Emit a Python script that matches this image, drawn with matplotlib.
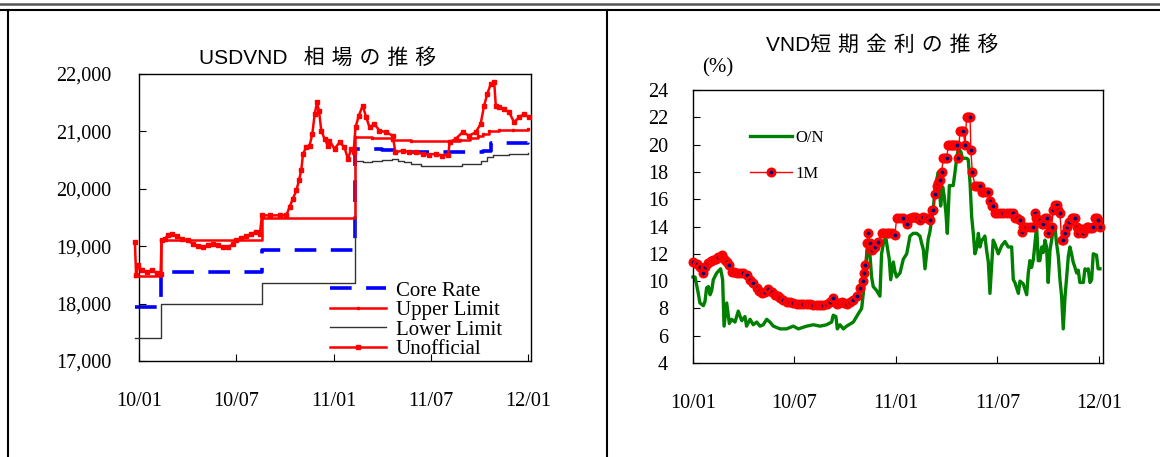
import matplotlib
matplotlib.use("Agg")
import matplotlib.pyplot as plt
from matplotlib.lines import Line2D

plt.rcParams['font.family'] = ['Liberation Serif', 'DejaVu Serif']
TITLE_FONT = ['Liberation Sans', 'Noto Sans CJK JP', 'DejaVu Sans']

# ---------------- shared x axis (fractional year) ----------------
tick_years = [2010.0, 2010.5, 2011.0, 2011.5, 2012.0]
tick_labels = ["10/01", "10/07", "11/01", "11/07", "12/01"]

# ---------------- USDVND: official band and unofficial market ----------------
core_t = [2009.98, 2010.115, 2010.630, 2011.110, 2011.25, 2011.38, 2011.77, 2011.81, 2012.0]
core_v = [17941, 18544, 18932, 20693, 20670, 20637, 20666, 20800, 20828]

upper_t = [2009.98, 2010.115, 2010.630, 2011.110, 2011.20, 2011.30, 2011.40, 2011.60,
           2011.65, 2011.70, 2011.74, 2011.77, 2011.80, 2011.85, 2011.92, 2012.0]
upper_v = [18479, 19100, 19500, 20900, 20880, 20850, 20830, 20825,
           20850, 20880, 20920, 20960, 21010, 21025, 21030, 21045]

lower_t = [2009.98, 2010.115, 2010.630, 2011.110, 2011.15, 2011.20, 2011.25, 2011.30,
           2011.33, 2011.36, 2011.40, 2011.45, 2011.55, 2011.62, 2011.66, 2011.72,
           2011.76, 2011.79, 2011.82, 2011.90, 2012.0]
lower_v = [17403, 17987, 18364, 20486, 20465, 20490, 20505, 20520,
           20490, 20460, 20435, 20405, 20405, 20405, 20434, 20434,
           20480, 20560, 20597, 20605, 20620]

unoff_t = [2009.979, 2009.985, 2009.997, 2010.014, 2010.039, 2010.065, 2010.091, 2010.111,
           2010.116, 2010.133, 2010.150, 2010.168, 2010.193, 2010.219, 2010.253, 2010.279,
           2010.304, 2010.330, 2010.356, 2010.381, 2010.407, 2010.432, 2010.458, 2010.484,
           2010.501, 2010.526, 2010.552, 2010.578, 2010.603, 2010.621, 2010.632, 2010.672,
           2010.723, 2010.757, 2010.774, 2010.791, 2010.809, 2010.822, 2010.834, 2010.843,
           2010.860, 2010.877, 2010.891, 2010.903, 2010.915, 2010.925, 2010.937, 2010.954,
           2010.971, 2010.979, 2011.005, 2011.031, 2011.056, 2011.074, 2011.091, 2011.103,
           2011.113, 2011.130, 2011.150, 2011.168, 2011.185, 2011.210, 2011.236, 2011.270,
           2011.304, 2011.318, 2011.356, 2011.390, 2011.424, 2011.458, 2011.492, 2011.526,
           2011.559, 2011.590, 2011.597, 2011.628, 2011.663, 2011.697, 2011.731, 2011.756,
           2011.774, 2011.790, 2011.808, 2011.826, 2011.834, 2011.851, 2011.877, 2011.903,
           2011.928, 2011.954, 2011.979, 2012.005]
unoff_v = [19074, 18494, 18668, 18581, 18552, 18581, 18535, 18523,
           19102, 19131, 19189, 19207, 19172, 19131, 19102, 19033,
           19004, 18987, 19016, 19045, 19016, 18987, 18987, 19033,
           19102, 19149, 19172, 19218, 19247, 19207, 19537, 19537,
           19537, 19537, 19682, 19827, 19971, 20145, 20319, 20608,
           20724, 20753, 20956, 21303, 21506, 21361, 21014, 20869,
           20753, 20840, 20695, 20811, 20724, 20521, 20695, 20637,
           21072, 21274, 21448, 21245, 21072, 21130, 21014, 20985,
           20927, 20637, 20666, 20637, 20637, 20608, 20597, 20608,
           20579, 20597, 20811, 20869, 20985, 20927, 20985, 21130,
           21448, 21651, 21825, 21854, 21448, 21419, 21390, 21332,
           21159, 21245, 21303, 21245]

# ---------------- VND short-term rates (%) ----------------
on_t = [2010.000, 2010.010, 2010.026, 2010.034, 2010.051, 2010.059, 2010.067, 2010.076,
        2010.084, 2010.092, 2010.100, 2010.117, 2010.136, 2010.146, 2010.153, 2010.166,
        2010.179, 2010.190, 2010.207, 2010.223, 2010.240, 2010.256, 2010.264, 2010.281,
        2010.297, 2010.314, 2010.330, 2010.346, 2010.363, 2010.379, 2010.396, 2010.429,
        2010.445, 2010.461, 2010.494, 2010.519, 2010.560, 2010.593, 2010.626, 2010.658,
        2010.683, 2010.691, 2010.704, 2010.711, 2010.724, 2010.741, 2010.757, 2010.790,
        2010.814, 2010.831, 2010.839, 2010.847, 2010.856, 2010.864, 2010.872, 2010.880,
        2010.888, 2010.905, 2010.921, 2010.929, 2010.941, 2010.951, 2010.957, 2010.967,
        2010.974, 2010.987, 2010.995, 2011.003, 2011.020, 2011.036, 2011.053, 2011.069,
        2011.085, 2011.102, 2011.118, 2011.126, 2011.135, 2011.143, 2011.151, 2011.159,
        2011.167, 2011.176, 2011.184, 2011.192, 2011.200, 2011.209, 2011.213, 2011.220,
        2011.230, 2011.238, 2011.246, 2011.253, 2011.263, 2011.282, 2011.291, 2011.299,
        2011.307, 2011.319, 2011.328, 2011.348, 2011.356, 2011.365, 2011.373, 2011.381,
        2011.389, 2011.397, 2011.406, 2011.414, 2011.422, 2011.430, 2011.438, 2011.447,
        2011.455, 2011.463, 2011.471, 2011.479, 2011.488, 2011.504, 2011.521, 2011.537,
        2011.553, 2011.570, 2011.578, 2011.586, 2011.603, 2011.611, 2011.627, 2011.644,
        2011.652, 2011.660, 2011.668, 2011.677, 2011.685, 2011.693, 2011.701, 2011.709,
        2011.718, 2011.726, 2011.734, 2011.742, 2011.750, 2011.759, 2011.767, 2011.775,
        2011.783, 2011.791, 2011.800, 2011.808, 2011.816, 2011.824, 2011.833, 2011.841,
        2011.849, 2011.857, 2011.865, 2011.873, 2011.882, 2011.890, 2011.898, 2011.906,
        2011.923, 2011.931, 2011.939, 2011.947, 2011.956, 2011.964, 2011.972, 2011.988,
        2011.996, 2012.005]
on_v = [10.3, 10.3, 9.1, 8.4, 8.2, 8.5, 9.5, 9.6,
        9.0, 9.3, 10.1, 10.6, 10.9, 10.1, 6.7, 8.4,
        6.9, 7.2, 7.0, 7.8, 7.1, 7.4, 6.7, 7.2,
        6.8, 7.0, 6.7, 6.8, 7.2, 7.0, 6.7, 6.5,
        6.5, 6.5, 6.7, 6.5, 6.7, 6.8, 6.7, 6.8,
        7.0, 7.5, 7.4, 6.5, 6.8, 6.5, 6.7, 7.0,
        7.6, 8.0, 9.1, 10.3, 11.8, 12.8, 11.9, 10.3,
        9.6, 9.3, 8.9, 12.0, 13.0, 13.1, 12.5, 11.6,
        10.1, 11.4, 10.7, 10.3, 10.6, 11.6, 12.0, 13.3,
        13.5, 13.5, 13.3, 12.8, 12.3, 10.9, 12.0, 13.1,
        13.6, 14.5, 15.3, 16.7, 17.4, 18.0, 17.2, 15.5,
        16.9, 16.2, 15.0, 13.5, 17.0, 17.0, 18.0, 19.0,
        19.7, 19.5, 19.0, 19.0, 18.9, 17.2, 14.7, 13.5,
        12.0, 12.4, 13.5, 12.5, 13.0, 13.1, 13.3, 12.2,
        11.4, 9.1, 11.0, 13.0, 12.7, 12.0, 12.6, 12.9,
        12.5, 12.5, 10.1, 9.9, 9.1, 10.0, 9.8, 9.0,
        10.6, 11.5, 11.0, 11.6, 12.8, 14.0, 11.5, 11.5,
        12.5, 12.1, 13.0, 12.5, 9.9, 12.3, 13.0, 13.9,
        14.0, 12.8, 11.8, 10.1, 8.9, 6.5, 8.9, 10.3,
        11.8, 12.5, 12.0, 11.4, 11.0, 10.6, 10.8, 9.9,
        9.9, 10.9, 10.8, 10.9, 9.9, 10.1, 12.0, 11.9,
        10.9, 10.9]

m1_t = [2010.002, 2010.018, 2010.034, 2010.051, 2010.059, 2010.076, 2010.088, 2010.100,
        2010.112, 2010.125, 2010.141, 2010.149, 2010.158, 2010.166, 2010.179, 2010.190,
        2010.202, 2010.215, 2010.232, 2010.248, 2010.264, 2010.281, 2010.297, 2010.314,
        2010.326, 2010.338, 2010.355, 2010.371, 2010.388, 2010.404, 2010.417, 2010.429,
        2010.445, 2010.461, 2010.478, 2010.494, 2010.510, 2010.527, 2010.543, 2010.560,
        2010.576, 2010.593, 2010.609, 2010.626, 2010.642, 2010.658, 2010.675, 2010.691,
        2010.708, 2010.720, 2010.732, 2010.745, 2010.757, 2010.774, 2010.790, 2010.806,
        2010.823, 2010.839, 2010.842, 2010.847, 2010.855, 2010.864, 2010.872, 2010.880,
        2010.897, 2010.913, 2010.929, 2010.942, 2010.954, 2010.967, 2010.980, 2010.995,
        2011.003, 2011.020, 2011.036, 2011.053, 2011.069, 2011.082, 2011.094, 2011.106,
        2011.118, 2011.135, 2011.151, 2011.167, 2011.176, 2011.184, 2011.192, 2011.200,
        2011.208, 2011.217, 2011.225, 2011.233, 2011.242, 2011.250, 2011.258, 2011.266,
        2011.274, 2011.283, 2011.291, 2011.299, 2011.307, 2011.315, 2011.324, 2011.332,
        2011.340, 2011.348, 2011.356, 2011.365, 2011.369, 2011.376, 2011.389, 2011.401,
        2011.414, 2011.422, 2011.430, 2011.442, 2011.455, 2011.463, 2011.471, 2011.479,
        2011.488, 2011.496, 2011.512, 2011.529, 2011.545, 2011.562, 2011.578, 2011.586,
        2011.598, 2011.611, 2011.619, 2011.627, 2011.643, 2011.659, 2011.675, 2011.683,
        2011.690, 2011.700, 2011.709, 2011.718, 2011.726, 2011.734, 2011.742, 2011.750,
        2011.758, 2011.767, 2011.775, 2011.783, 2011.791, 2011.800, 2011.808, 2011.816,
        2011.825, 2011.833, 2011.841, 2011.853, 2011.865, 2011.874, 2011.882, 2011.890,
        2011.898, 2011.906, 2011.915, 2011.923, 2011.931, 2011.939, 2011.947, 2011.956,
        2011.964, 2011.972, 2011.980, 2011.988, 2011.997, 2012.005]
m1_v = [11.4, 11.25, 11.0, 10.6, 11.05, 11.3, 11.45, 11.55,
        11.65, 11.8, 11.9, 11.7, 11.55, 11.4, 11.2, 10.7,
        10.65, 10.6, 10.6, 10.6, 10.45, 10.1, 9.85, 9.5,
        9.3, 9.1, 9.2, 9.4, 9.2, 9.0, 8.9, 8.75,
        8.6, 8.5, 8.45, 8.4, 8.35, 8.3, 8.3, 8.3,
        8.3, 8.25, 8.25, 8.25, 8.25, 8.3, 8.5, 8.75,
        8.3, 8.4, 8.5, 8.4, 8.3, 8.45, 8.6, 8.9,
        9.5, 10.0, 10.6, 11.2, 12.8, 13.5, 12.8, 12.3,
        12.5, 12.9, 13.5, 13.5, 13.5, 13.5, 13.5, 13.4,
        14.6, 14.6, 14.6, 14.2, 14.6, 14.7, 14.7, 14.6,
        14.5, 14.7, 14.6, 14.5, 15.2, 15.2, 16.4, 17.0,
        17.2, 17.4, 18.0, 19.0, 19.0, 19.0, 20.0, 20.0,
        20.0, 20.0, 20.0, 20.0, 19.0, 21.0, 21.0, 21.0,
        20.0, 22.0, 22.0, 22.0, 19.6, 18.0, 17.0, 17.0,
        17.0, 16.5, 16.5, 16.5, 16.5, 15.9, 15.5, 15.5,
        15.0, 15.0, 15.0, 15.0, 15.0, 15.0, 15.0, 14.6,
        14.6, 14.5, 13.6, 14.0, 14.0, 14.0, 14.0, 15.0,
        14.6, 14.5, 14.5, 14.2, 14.2, 14.6, 14.6, 13.5,
        14.0, 14.0, 15.2, 15.6, 15.6, 15.2, 15.0, 13.0,
        13.0, 13.5, 14.0, 14.3, 14.6, 14.6, 14.6, 14.0,
        13.5, 13.8, 13.8, 13.5, 13.8, 14.0, 14.0, 13.9,
        13.9, 14.0, 14.6, 14.6, 14.5, 14.0]

# ---------------- figure ----------------
fig = plt.figure(figsize=(11.6, 4.57), dpi=100)

# page rules: double line on top, vertical separators
fig.add_artist(Line2D([0, 1], [0.9915, 0.9915], transform=fig.transFigure,
                      color='#555555', lw=1.8))
fig.add_artist(Line2D([0, 1], [0.978, 0.978], transform=fig.transFigure,
                      color='black', lw=1.5))
fig.add_artist(Line2D([0.0069, 0.0069], [0, 0.978], transform=fig.transFigure,
                      color='black', lw=1.5))
fig.add_artist(Line2D([0.5235, 0.5235], [0, 0.978], transform=fig.transFigure,
                      color='black', lw=1.5))

TICK_FS = 14.5


def style_axes(ax, xlim):
    ax.set_xlim(*xlim)
    ax.set_xticks(tick_years)
    ax.set_xticklabels(tick_labels)
    ax.tick_params(direction='in', length=5, width=0.8, labelsize=TICK_FS,
                   colors='black')
    ax.tick_params(axis='x', pad=22)
    ax.tick_params(axis='y', pad=20)
    for s in ax.spines.values():
        s.set_linewidth(1.0)
        s.set_color('black')


# ---- left: USDVND ----
ax1 = fig.add_axes([139 / 1160, 96 / 457, 392 / 1160, 287 / 457])
l_core, = ax1.plot(core_t, core_v, color='#0000FF', lw=2.6, dashes=(6, 4),
                   drawstyle='steps-post', clip_on=False, zorder=2)
l_lower, = ax1.plot(lower_t, lower_v, color='#333333', lw=1.0,
                    drawstyle='steps-post', clip_on=False, zorder=3)
l_upper, = ax1.plot(upper_t, upper_v, color='#FF0000', lw=1.8,
                    drawstyle='steps-post', marker='s', markersize=1.5,
                    clip_on=False, zorder=4)
l_unoff, = ax1.plot(unoff_t, unoff_v, color='#FF0000', lw=1.8,
                    marker='s', markersize=3.5, clip_on=False, zorder=5)
ax1.set_ylim(17000, 22000)
ax1.set_yticks([17000, 18000, 19000, 20000, 21000, 22000])
ax1.set_yticklabels([f"{v:,}" for v in [17000, 18000, 19000, 20000, 21000, 22000]])
style_axes(ax1, (2010.0, 2012.015))
ax1.legend([l_core, l_upper, l_lower, l_unoff],
           ["Core Rate", "Upper Limit", "Lower Limit", "Unofficial"],
           loc='upper left', bbox_to_anchor=(330 / 1160, 1 - 281 / 457),
           bbox_transform=fig.transFigure, frameon=False, fontsize=15,
           handlelength=2.7, handletextpad=0.45, labelspacing=0.0,
           borderpad=0, borderaxespad=0, numpoints=1)
fig.text(318 / 1160, 1 - 58 / 457, "USDVND\u2002 相\u2004場\u2004の\u2004推\u2004移",
         family=TITLE_FONT, fontsize=15, ha='center', va='center')

# ---- right: VND short-term rates ----
ax2 = fig.add_axes([693 / 1160, 94 / 457, 410 / 1160, 273 / 457])
l_on, = ax2.plot(on_t, on_v, color='#008000', lw=2.4, clip_on=False, zorder=2)
l_m1, = ax2.plot(m1_t, m1_v, color='#FF0000', lw=1.0, marker='o', markersize=5.0,
                 markerfacecolor='#000080', markeredgecolor='#FF0000',
                 markeredgewidth=2.2, clip_on=False, zorder=3)
ax2.set_ylim(4, 24)
ax2.set_yticks(range(4, 25, 2))
style_axes(ax2, (2010.0, 2012.02))
ax2.tick_params(axis='y', pad=18)
ax2.legend([l_on, l_m1], ["O/N", "1M"], loc='upper left',
           bbox_to_anchor=(750 / 1160, 1 - 130 / 457),
           bbox_transform=fig.transFigure, frameon=False, fontsize=12,
           handlelength=2.5, handletextpad=0.25, labelspacing=1.2,
           borderpad=0, borderaxespad=0, numpoints=1)
fig.text(882 / 1160, 1 - 45 / 457, "VND短\u2004期\u2004金\u2004利\u2004の\u2004推\u2004移",
         family=TITLE_FONT, fontsize=15, ha='center', va='center')
fig.text(718 / 1160, 1 - 68 / 457, "(%)", fontsize=15, ha='center', va='center')

fig.savefig("out.png", dpi=100)
